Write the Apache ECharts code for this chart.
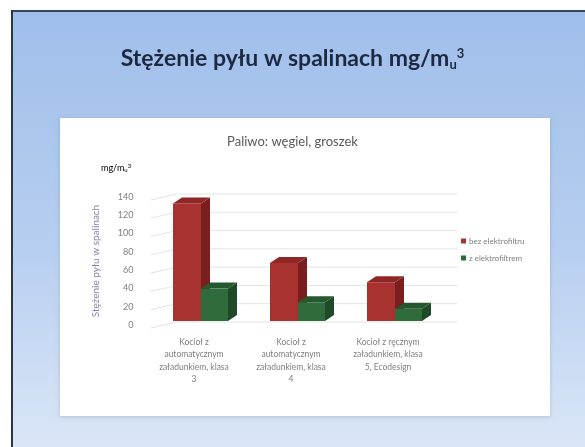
<!DOCTYPE html>
<html>
<head>
<meta charset="utf-8">
<script src="https://cdn.jsdelivr.net/npm/echarts@6/dist/echarts.min.js"></script>
<style>html,body{margin:0;padding:0;background:#fff;}#c{width:585px;height:447px;}</style>
</head>
<body>
<div id="c"></div>
<script>
const categories = [
  'Kocioł z\nautomatycznym\nzaładunkiem, klasa\n3',
  'Kocioł z\nautomatycznym\nzaładunkiem, klasa\n4',
  'Kocioł z ręcznym\nzaładunkiem, klasa\n5, Ecodesign'
];
const seriesNames = ['bez elektrofiltru', 'z elektrofiltrem'];
const bezElektrofiltru = [135, 70, 49];
const zElektrofiltrem = [42, 27, 20];
const yTicks = [0, 20, 40, 60, 80, 100, 120, 140];

const FONT = 'Lato, "Open Sans", sans-serif';
const chart = echarts.init(document.getElementById('c'));

function barRenderer(offL, offR, front, side, topc) {
  return function (params, api) {
    const idx = api.value(0);
    const v = api.value(1);
    const t = api.coord([idx, v]);
    const b = api.coord([idx, 0]);
    const cx = t[0];
    const x0 = cx + offL, x1 = cx + offR;
    const yT = t[1] + 2, yB = b[1] - 4;
    const dx = 9, dy = 6;
    return {
      type: 'group',
      children: [
        { type: 'rect', shape: { x: x0, y: yT, width: x1 - x0, height: yB - yT }, style: { fill: front } },
        { type: 'polygon', shape: { points: [[x1, yT], [x1 + dx, yT - dy], [x1 + dx, yB - dy], [x1, yB]] }, style: { fill: side } },
        { type: 'polygon', shape: { points: [[x0, yT], [x0 + dx, yT - dy], [x1 + dx, yT - dy], [x1, yT]] }, style: { fill: topc } }
      ]
    };
  };
}

function wallRenderer(params, api) {
  const v = api.value(1);
  const p = api.coord([0, v]);
  const w = api.size([1, 0])[0];
  const xL = p[0] - w / 2;
  const xR = xL + 3 * w;
  return {
    type: 'polyline',
    shape: { points: [[xL - 2, p[1] + 3], [xL + 24, p[1] - 3], [xR + 14, p[1] - 3]] },
    style: { stroke: '#e4e4e4', lineWidth: 1, fill: null }
  };
}

const option = {
  backgroundColor: '#ffffff',
  animation: false,
  title: [{
    text: '{t|Stężenie pyłu w spalinach mg/m}{s|u}{p|3}',
    left: 'center',
    top: 42,
    textStyle: {
      rich: {
        t: { fontFamily: FONT, fontWeight: 'bold', fontSize: 23, color: '#1d2940', lineHeight: 24 },
        s: { fontFamily: FONT, fontWeight: 'bold', fontSize: 13, color: '#1d2940', verticalAlign: 'bottom', lineHeight: 24 },
        p: { fontFamily: FONT, fontWeight: 'bold', fontSize: 13, color: '#1d2940', verticalAlign: 'top', lineHeight: 24 }
      }
    }
  }, {
    text: 'Paliwo: węgiel, groszek',
    left: 'center',
    top: 130,
    textStyle: { fontFamily: FONT, fontWeight: 'normal', fontSize: 13, color: '#595959' }
  }],
  graphic: [
    { type: 'rect', z: -10, shape: { x: 12, y: 10, width: 573, height: 437 },
      style: { fill: new echarts.graphic.LinearGradient(0, 0, 0, 1, [
        { offset: 0, color: '#9fbeea' }, { offset: 0.55, color: '#b7cff0' }, { offset: 1, color: '#dae6f7' }]) } },
    { type: 'line', z: -9, shape: { x1: 12, y1: 11, x2: 585, y2: 11 }, style: { stroke: '#38465a', lineWidth: 2 } },
    { type: 'line', z: -9, shape: { x1: 12, y1: 10, x2: 12, y2: 447 }, style: { stroke: '#2c3645', lineWidth: 2 } },
    { type: 'rect', z: -8, shape: { x: 60, y: 118, width: 490, height: 298 },
      style: { fill: '#ffffff', shadowBlur: 4, shadowColor: 'rgba(0,0,0,0.15)', shadowOffsetY: 1 } },
    { type: 'text', z: 10, left: 101, top: 163,
      style: { text: '{a|mg/m}{b|u}{c|3}',
        rich: {
          a: { fontFamily: FONT, fontSize: 9, color: '#6e6e6e', lineHeight: 10 },
          b: { fontFamily: FONT, fontSize: 6, color: '#6e6e6e', verticalAlign: 'bottom', lineHeight: 10 },
          c: { fontFamily: FONT, fontSize: 6, color: '#6e6e6e', verticalAlign: 'top', lineHeight: 10 }
        } } }
  ],
  legend: {
    orient: 'vertical',
    left: 456,
    top: 232,
    itemWidth: 5,
    itemHeight: 5,
    itemGap: 9,
    icon: 'rect',
    data: seriesNames,
    textStyle: { fontFamily: FONT, fontSize: 8, color: '#808080', padding: [0, 0, 0, -2] }
  },
  grid: { left: 152.5, right: 141.5, top: 197, bottom: 122 },
  xAxis: {
    type: 'category',
    data: categories,
    axisLine: { show: false },
    axisTick: { show: false },
    axisLabel: {
      interval: 0,
      margin: 11,
      fontFamily: FONT,
      fontSize: 8.5,
      lineHeight: 12.5,
      color: '#808080',
      padding: [0, 14, 0, 0]
    }
  },
  yAxis: {
    type: 'value',
    min: 0,
    max: 140,
    interval: 20,
    name: 'Stężenie pyłu w spalinach',
    nameLocation: 'middle',
    nameRotate: 90,
    nameGap: 52,
    nameTextStyle: { fontFamily: FONT, fontSize: 10, color: '#8783b0' },
    axisLine: { show: false },
    axisTick: { show: false },
    splitLine: { show: false },
    axisLabel: { margin: 19, fontFamily: FONT, fontSize: 9, color: '#808080' }
  },
  series: [
    {
      type: 'custom',
      name: 'wall',
      silent: true,
      z: 1,
      renderItem: wallRenderer,
      data: yTicks.map(v => [0, v])
    },
    {
      type: 'custom',
      name: seriesNames[0],
      itemStyle: { color: '#a8322f' },
      z: 3,
      renderItem: barRenderer(-28, 0, '#a8322f', '#7a1f1e', '#8e2725'),
      data: bezElektrofiltru.map((v, i) => [i, v])
    },
    {
      type: 'custom',
      name: seriesNames[1],
      itemStyle: { color: '#2f6b3b' },
      z: 4,
      renderItem: barRenderer(0, 27, '#2f6b3b', '#1f4a28', '#26582f'),
      data: zElektrofiltrem.map((v, i) => [i, v])
    }
  ]
};
chart.setOption(option);
</script>
</body>
</html>
